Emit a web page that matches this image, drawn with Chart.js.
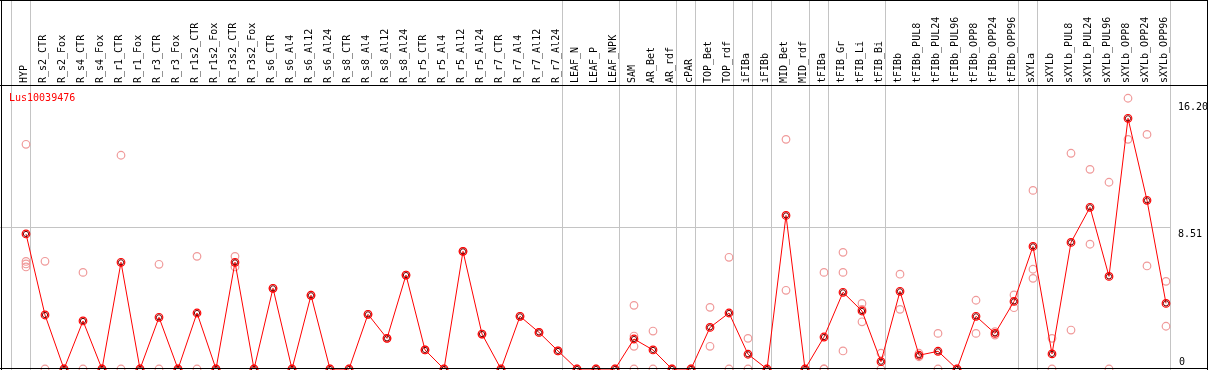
<!DOCTYPE html>
<html>
<head>
<meta charset="utf-8">
<script src="https://cdn.jsdelivr.net/npm/chart.js@4.4.0/dist/chart.umd.min.js"></script>
<style>
  html, body { margin: 0; padding: 0; background: #ffffff; overflow: hidden; }
  #wrap { width: 1209px; height: 370px; position: relative; }
</style>
</head>
<body>
<div id="wrap"><canvas id="c" width="1209" height="370"></canvas></div>
<script>
// ---------------- data ----------------
const geneName = "Lus10039476";

const categories = [
  "HYP","R_s2_CTR","R_s2_Fox","R_s4_CTR","R_s4_Fox","R_r1_CTR","R_r1_Fox","R_r3_CTR","R_r3_Fox",
  "R_r1s2_CTR","R_r1s2_Fox","R_r3s2_CTR","R_r3s2_Fox","R_s6_CTR","R_s6_Al4","R_s6_Al12","R_s6_Al24",
  "R_s8_CTR","R_s8_Al4","R_s8_Al12","R_s8_Al24","R_r5_CTR","R_r5_Al4","R_r5_Al12","R_r5_Al24",
  "R_r7_CTR","R_r7_Al4","R_r7_Al12","R_r7_Al24","LEAF_N","LEAF_P","LEAF_NPK","SAM","AR_Bet","AR_rdf",
  "cPAR","TOP_Bet","TOP_rdf","iFIBa","iFIBb","MID_Bet","MID_rdf","tFIBa","tFIB_Gr","tFIB_Li","tFIB_Bi",
  "tFIBb","tFIBb_PUL8","tFIBb_PUL24","tFIBb_PUL96","tFIBb_OPP8","tFIBb_OPP24","tFIBb_OPP96",
  "sXYLa","sXYLb","sXYLb_PUL8","sXYLb_PUL24","sXYLb_PUL96","sXYLb_OPP8","sXYLb_OPP24","sXYLb_OPP96"
];

const meanValues = [
  8.15, 3.26, 0, 2.90, 0, 6.44, 0, 3.12, 0,
  3.38, 0, 6.44, 0, 4.87, 0, 4.45, 0,
  0, 3.30, 1.85, 5.67, 1.15, 0, 7.10, 2.11,
  0, 3.18, 2.21, 1.09, 0, 0, 0, 1.81, 1.15, 0,
  0, 2.51, 3.38, 0.89, 0, 9.27, 0, 1.93, 4.63, 3.50, 0.44,
  4.69, 0.83, 1.07, 0, 3.18, 2.15, 4.08,
  7.40, 0.91, 7.64, 9.76, 5.59, 15.13, 10.18, 3.96
];

const replicateValues = [
  [13.56, 6.49, 6.34, 6.16], [6.50, 0], [0, 0], [5.83, 0], [0, 0], [12.90, 0], [0, 0], [6.32, 0], [0, 0],
  [6.80, 0], [0, 0], [6.80, 6.16], [0, 0], [4.87], [0], [4.45], [0],
  [0], [3.30], [1.85], [5.67], [1.15], [0], [7.10], [2.11],
  [0], [3.18], [2.21], [1.09], [0], [0], [0], [3.84, 1.99, 1.37, 0], [2.29, 0], [0],
  [0], [3.72, 1.37], [6.74, 0], [1.85, 0], [0], [13.86, 4.75], [0], [5.83, 0, 0], [7.04, 5.83, 1.09], [3.96, 3.60, 2.85], [0.95, 0],
  [5.72, 3.60], [0.95, 0.74], [2.15, 0], [0], [4.15, 2.15], [2.25, 2.05], [4.47, 3.70],
  [10.78, 6.02, 5.47], [1.85, 0], [13.02, 2.35], [12.05, 7.53], [11.27, 0], [16.34, 13.86], [14.16, 6.22], [5.29, 2.58]
];

// index of the last category of each group (group separators drawn after these)
const groupEnds = [-1, 0, 28, 31, 34, 35, 37, 38, 39, 41, 42, 45, 52, 53, 60];

const yTickValues = [0, 8.51];
const yTickLabels = ["0", "8.51"];
const yTopValue = 16.20;
const yTopLabel = "16.20";
const yMax = 17.14;

// ---------------- chart ----------------
const FONT = '10px "DejaVu Sans Mono", "Liberation Mono", monospace';

const mainPoints = meanValues.map((v, i) => ({ x: i, y: v }));
const repPoints = [];
replicateValues.forEach((arr, i) => arr.forEach(v => repPoints.push({ x: i, y: v })));

const decor = {
  id: 'decor',
  beforeDatasetsDraw(chart) {
    const ctx = chart.ctx;
    const xs = chart.scales.x, ys = chart.scales.y;
    ctx.save();
    ctx.fillStyle = '#c4c4c4';
    groupEnds.forEach(k => {
      const px = Math.floor(xs.getPixelForValue(k + 4.5 / 19));
      ctx.fillRect(px, 0, 1, 370);
    });
    const gy = Math.floor(ys.getPixelForValue(yTickValues[1]));
    const lastSep = Math.floor(xs.getPixelForValue(groupEnds[groupEnds.length - 1] + 4.5 / 19));
    ctx.fillRect(0, gy, lastSep, 1);
    ctx.restore();
  },
  afterDraw(chart) {
    const ctx = chart.ctx;
    const xs = chart.scales.x, ys = chart.scales.y;
    ctx.save();
    ctx.fillStyle = '#000000';
    ctx.fillRect(0, 0, 1208, 1);
    ctx.fillRect(0, 85, 1208, 1);
    ctx.fillRect(0, 368, 1208, 1);
    ctx.fillRect(1, 0, 1, 370);
    ctx.fillRect(1207, 0, 1, 370);

    ctx.font = FONT;
    ctx.fillStyle = '#000000';
    ctx.textAlign = 'left';
    ctx.textBaseline = 'alphabetic';
    categories.forEach((name, i) => {
      const px = xs.getPixelForValue(i);
      ctx.save();
      ctx.translate(Math.round(px) + 1, 83);
      ctx.rotate(-Math.PI / 2);
      ctx.fillText(name, 0, 0);
      ctx.restore();
    });

    const tx = 1178;
    ctx.textBaseline = 'top';
    ctx.fillText(yTopLabel, tx, Math.round(ys.getPixelForValue(yTopValue)) + 1);
    ctx.fillText(yTickLabels[1], tx, Math.round(ys.getPixelForValue(yTickValues[1])) + 1);
    ctx.textBaseline = 'bottom';
    ctx.fillText(yTickLabels[0], tx + 1, Math.round(ys.getPixelForValue(yTickValues[0])) - 2);

    ctx.fillStyle = '#ff0000';
    ctx.textBaseline = 'alphabetic';
    ctx.fillText(geneName, 9, 101);
    ctx.restore();
  }
};

new Chart(document.getElementById('c'), {
  type: 'scatter',
  data: {
    datasets: [
      {
        label: 'inner',
        data: mainPoints,
        showLine: false,
        pointRadius: 2.6,
        pointBorderWidth: 1,
        pointBorderColor: '#700000',
        pointBackgroundColor: 'rgba(0,0,0,0)',
        order: 0,
        clip: false
      },
      {
        label: 'mean',
        data: mainPoints,
        showLine: true,
        borderColor: '#ff0000',
        borderWidth: 1,
        tension: 0,
        pointRadius: 3.8,
        pointBorderWidth: 1.2,
        pointBorderColor: '#ff0000',
        pointBackgroundColor: 'rgba(0,0,0,0)',
        order: 1,
        clip: false
      },
      {
        label: 'replicates',
        data: repPoints,
        showLine: false,
        pointRadius: 3.8,
        pointBorderWidth: 1.2,
        pointBorderColor: '#f09a9a',
        pointBackgroundColor: 'rgba(0,0,0,0)',
        order: 2,
        clip: false
      }
    ]
  },
  options: {
    responsive: false,
    animation: false,
    devicePixelRatio: 1,
    layout: { autoPadding: false, padding: { left: 1, right: 2, top: 85, bottom: 1 } },
    plugins: { legend: { display: false }, tooltip: { enabled: false } },
    scales: {
      x: { type: 'linear', display: false, min: -25 / 19, max: -25 / 19 + 1206 / 19 },
      y: { type: 'linear', display: false, min: 0, max: yMax }
    }
  },
  plugins: [decor]
});
</script>
</body>
</html>
